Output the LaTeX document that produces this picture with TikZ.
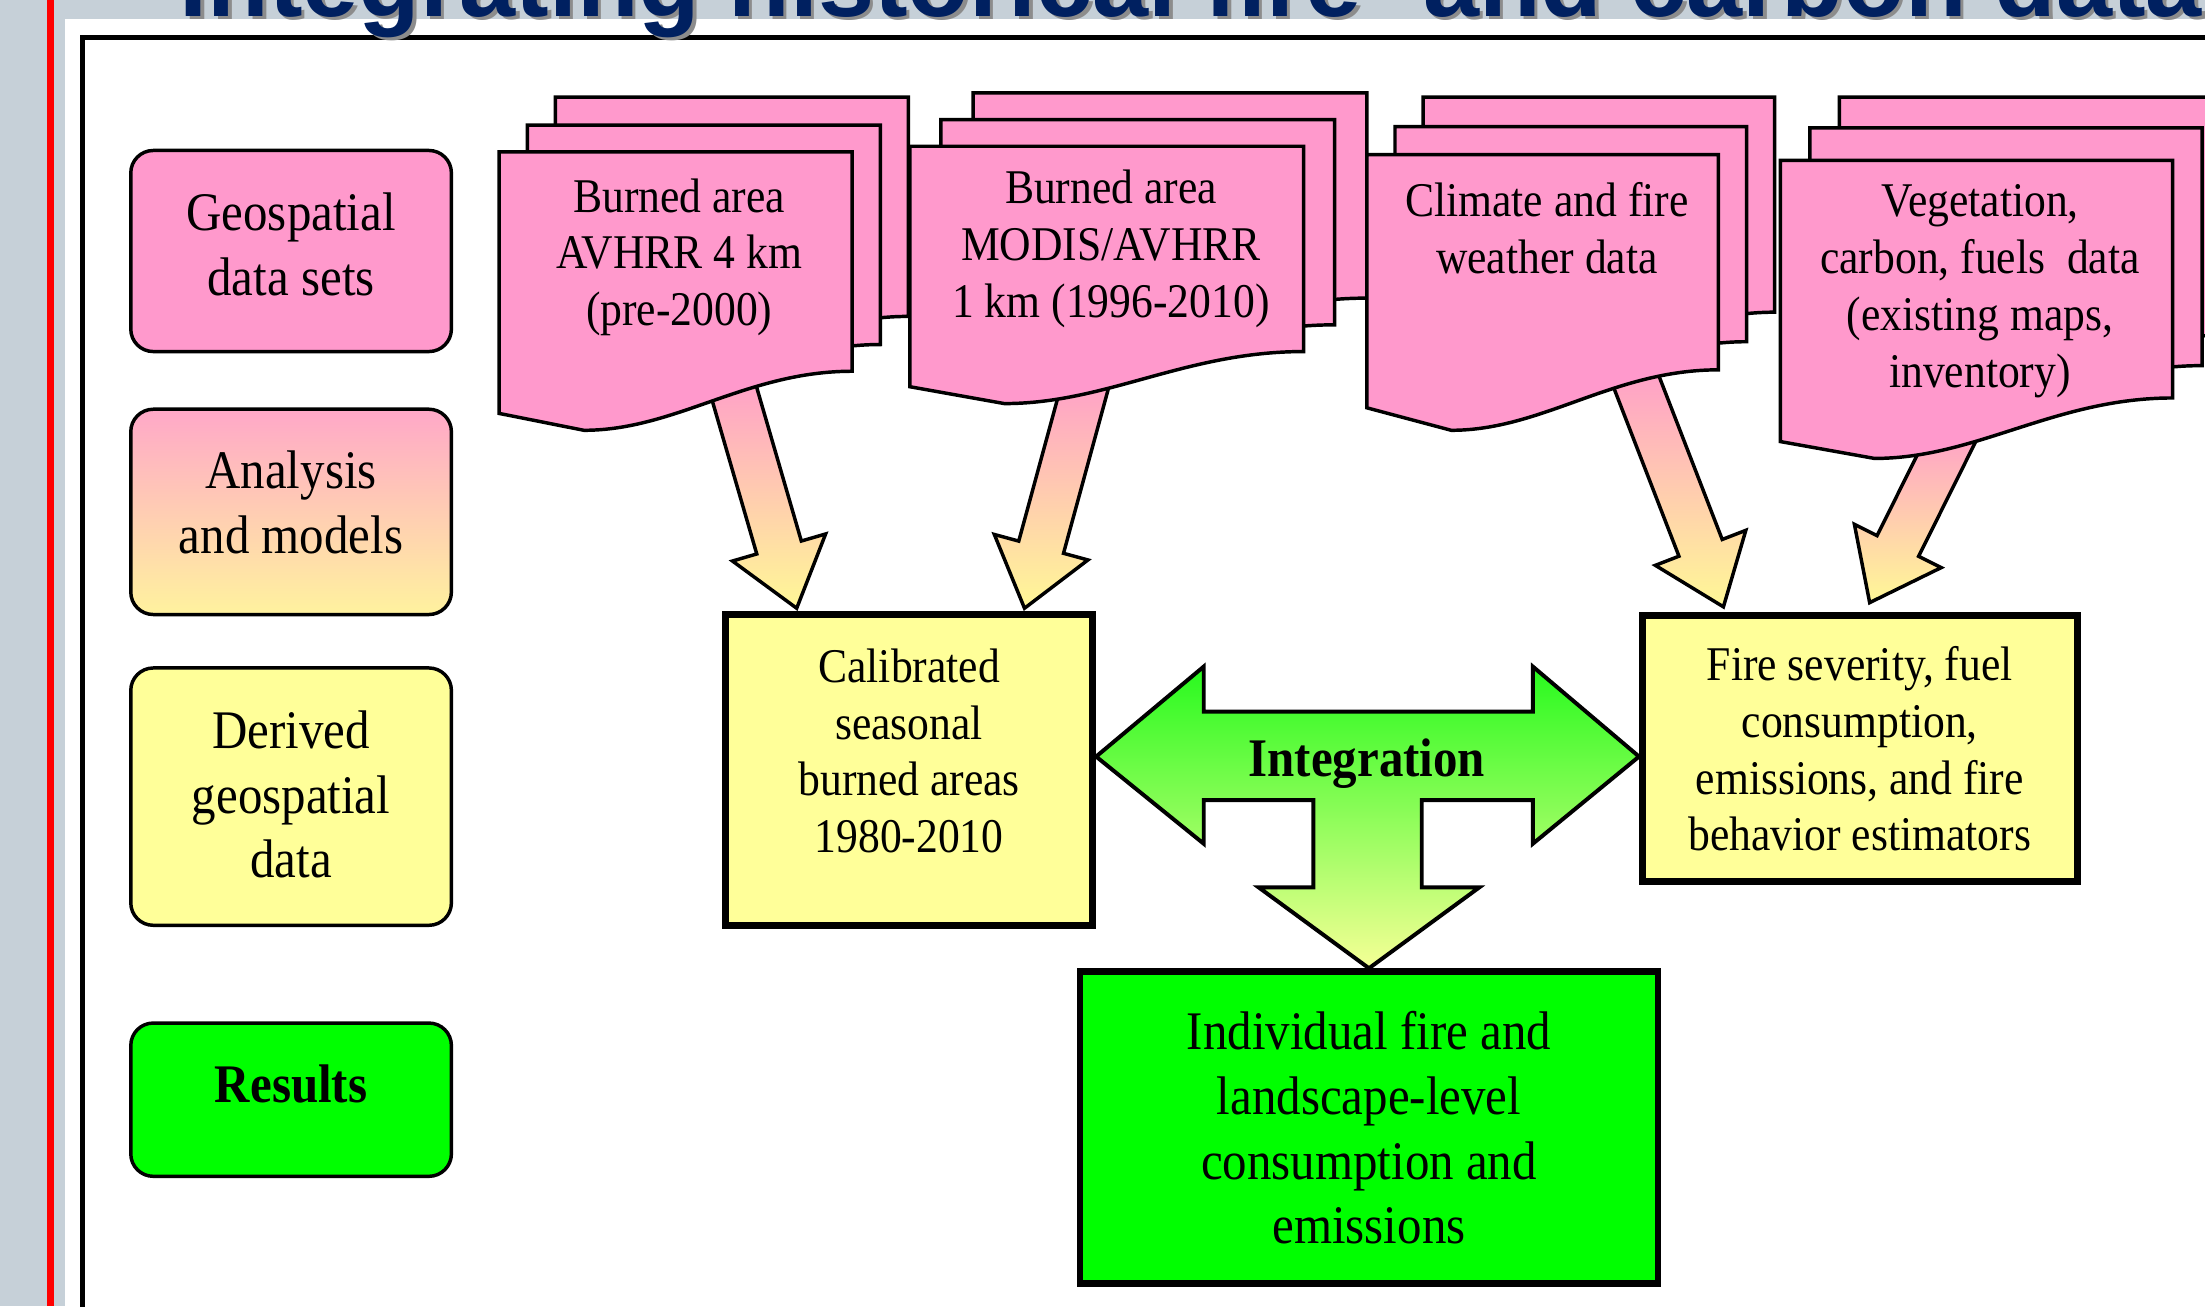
\documentclass[tikz,border=0pt]{standalone}
\usepackage{fontspec}
\setmainfont[FakeStretch=0.9]{Liberation Serif}
\newfontfamily\titlefont{Liberation Sans}
\usetikzlibrary{calc}

\definecolor{docpink}{RGB}{255,153,204}
\definecolor{paleyellow}{RGB}{255,255,153}
\definecolor{arrowyellow}{RGB}{255,248,150}
\definecolor{resultgreen}{RGB}{0,255,0}
\definecolor{integgreen}{RGB}{40,250,30}
\definecolor{integyellow}{RGB}{245,255,150}
\definecolor{slidegray}{RGB}{198,208,216}
\definecolor{titleblue}{RGB}{0,32,96}

\tikzset{
  legendbox/.style={draw, line width=0.7pt, rounded corners=1.6mm, minimum width=22.8mm,
    inner sep=0pt},
  legendtext/.style={align=center, inner sep=0pt, font=\fontsize{11}{13.1}\selectfont},
  sheet/.style={draw, fill=docpink, line width=0.7pt},
  doctext/.style={align=center, inner sep=0pt, font=\fontsize{9.8}{11.5}\selectfont},
  databox/.style={draw, fill=paleyellow, line width=1.4pt, align=center, inner sep=0pt,
    font=\fontsize{9.8}{11.5}\selectfont},
  feedshade/.style={draw, line width=0.7pt, top color=docpink, bottom color=arrowyellow},
  integshade/.style={draw, line width=0.8pt, top color=integgreen, bottom color=integyellow},
  titletext/.style={anchor=base west, inner sep=0pt,
    font=\titlefont\fontsize{20.4}{23}\selectfont\bfseries},
}

% one sheet of a document stack: x, y, width, left height, dip, right height
\newcommand{\docsheet}[6]{%
  \draw[sheet] (#1,#2) -- ({#1+#3},#2) -- ({#1+#3},{#2+#6})
    .. controls ({#1+0.7*#3},{#2+#6}) and ({#1+0.5*#3},{#2+#5}) .. ({#1+0.24*#3},{#2+#5})
    -- (#1,{#2+#4}) -- cycle;}

% fat block arrow from tail to tip
\newcommand{\feedarrow}[2]{%
  \coordinate (neck) at ($(#2)!4.5mm!(#1)$);
  \draw[feedshade] ($(#1)!1.65mm!90:(#2)$) -- ($(neck)!1.65mm!90:(#2)$)
    -- ($(neck)!3.45mm!90:(#2)$) -- (#2) -- ($(neck)!3.45mm!-90:(#2)$)
    -- ($(neck)!1.65mm!-90:(#2)$) -- ($(#1)!1.65mm!-90:(#2)$) -- cycle;}

\begin{document}
\begin{tikzpicture}[x=0.1mm,y=-0.1mm]
\useasboundingbox (0,0) rectangle (1568,929);
\clip (0,0) rectangle (1568,929);

% slide background
\fill[slidegray] (0,0) rectangle (1568,929);
\fill[white] (46,13.5) rectangle (1568,929);
\fill[red] (33.5,0) rectangle (38.5,929);
\draw[line width=1pt] (59,940) -- (59,26.5) -- (1580,26.5);

\node[titletext, text=black!45] (titleshadow) at (129.5,14) {Integrating historical fire- and carbon data};
\node[titletext, text=titleblue] (title) at (127,11.5) {Integrating historical fire- and carbon data};

% legend
\node[legendbox, fill=docpink, minimum height=14.3mm] (geo) at (207,178.5) {};
\node[legendtext] (geotext) at (207,174) {Geospatial\\data sets};
\node[legendbox, top color={rgb,255:red,255;green,168;blue,200}, bottom color={rgb,255:red,255;green,242;blue,158},
  minimum height=14.6mm] (analysis) at (207,364) {};
\node[legendtext] (analysistext) at (207,357.5) {Analysis\\and models};
\node[legendbox, fill=paleyellow, minimum height=18.3mm] (derived) at (207,566.5) {};
\node[legendtext] (derivedtext) at (207,565) {Derived\\geospatial\\data};
\node[legendbox, fill=resultgreen, minimum height=10.9mm] (results) at (207,782) {};
\node[legendtext, font=\fontsize{11}{13.1}\selectfont\bfseries] (resultstext) at (207,771) {Results};

% boxes
\node[databox, minimum width=26.1mm, minimum height=22.1mm] (calib) at (646.5,547.5) {};
\node[doctext] (calibtext) at (646.5,534) {Calibrated\\seasonal\\burned areas\\1980-2010};
\node[databox, minimum width=30.9mm, minimum height=18.9mm] (severity) at (1322.5,532.5)
  {Fire severity, fuel\\consumption,\\emissions, and fire\\behavior estimators};
\node[draw, fill=resultgreen, line width=1.4pt, minimum width=41.1mm, minimum height=22.2mm,
  align=center, inner sep=0pt, font=\fontsize{11}{13.1}\selectfont] (result) at (973.5,802)
  {Individual fire and\\landscape-level\\consumption and\\emissions};

% arrows from the data sets
\coordinate (tailA) at (517,262);
\coordinate (tailB) at (775,262);
\coordinate (tailC) at (1158,257);
\coordinate (tailD) at (1392,303);
\coordinate (tipA) at ([xshift=5.3mm,yshift=0.2mm]calib.north west);
\coordinate (tipB) at ([xshift=21.5mm,yshift=0.2mm]calib.north west);
\coordinate (tipC) at ([xshift=6mm,yshift=0.4mm]severity.north west);
\coordinate (tipD) at ([xshift=16.4mm,yshift=0.7mm]severity.north west);
\feedarrow{tailA}{tipA}
\feedarrow{tailB}{tipB}
\feedarrow{tailC}{tipC}
\feedarrow{tailD}{tipD}

% document stacks
\docsheet{395}{69}{251}{186}{198}{156}
\docsheet{375}{89}{251}{186}{198}{156}
\docsheet{355}{108}{251}{186}{198}{156}
\docsheet{692}{66}{280}{171}{183}{146}
\docsheet{669}{85}{280}{171}{183}{146}
\docsheet{647}{104}{280}{171}{183}{146}
\docsheet{1012}{69}{250}{180}{196}{153}
\docsheet{992}{90}{250}{180}{196}{153}
\docsheet{972}{110}{250}{180}{196}{153}
\docsheet{1308}{69}{279}{200}{212}{169}
\docsheet{1287}{91}{279}{200}{212}{169}
\docsheet{1266}{114}{279}{200}{212}{169}
\node[doctext] (avhrr) at (483,183) {Burned area\\AVHRR 4 km\\(pre-2000)};
\node[doctext] (modis) at (790,177) {Burned area\\MODIS/AVHRR\\1 km (1996-2010)};
\node[doctext] (climate) at (1100,162) {Climate and fire\\weather data};
\node[doctext] (veg) at (1408,207) {Vegetation,\\carbon, fuels~ data\\(existing maps,\\inventory)};

% integration arrow
\coordinate (mid) at (972,538);
\draw[integshade] (calib.east |- mid) -- (856,474) -- (856,506) -- (1090,506) -- (1090,474)
  -- (severity.west |- mid) -- (1090,600) -- (1090,569) -- (1011,569) -- (1011,631)
  -- (1052,631) -- (result.north) -- (895,631) -- (934,631) -- (934,569) -- (856,569)
  -- (856,600) -- cycle;
\node[font=\fontsize{11}{13.1}\selectfont\bfseries] (integ) at (972,543) {Integration};
\end{tikzpicture}
\end{document}
